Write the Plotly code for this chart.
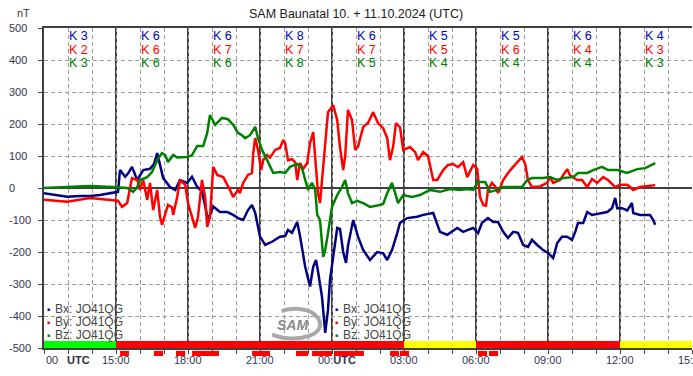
import plotly.graph_objects as go

# ---- data: time in minutes after 10.10.2024 12:00 UTC, values in nT ----
bx_t = [0, 28, 58, 90, 115, 140, 173, 185, 190, 203,
        210, 220, 233, 240, 248, 265, 275, 283, 288, 293,
        298, 315, 328, 340, 358, 370, 383, 395, 403, 410,
        423, 440, 458, 473, 485, 498, 510, 520, 528, 540,
        553, 570, 590, 603, 610, 620, 633, 640, 653, 665,
        673, 680, 685, 695, 703, 710, 715, 723, 733, 740,
        748, 755, 760, 773, 785, 798, 815, 833, 848, 858,
        870, 883, 890, 908, 933, 948, 973, 990, 1008, 1033,
        1048, 1060, 1073, 1085, 1095, 1110, 1123, 1135, 1148, 1160,
        1173, 1185, 1198, 1210, 1220, 1233, 1248, 1260, 1273, 1283,
        1295, 1308, 1320, 1328, 1335, 1348, 1358, 1370, 1390, 1408,
        1420, 1428, 1433, 1445, 1458, 1470, 1473, 1490, 1515, 1523,
        1528]
bx_v = [-16, -22, -27, -25, -25, -22, -16, -12, 56, 35,
        45, 66, 25, 40, 56, 60, 75, 109, 80, 60,
        31, 3, -6, 25, 16, 35, 3, -10, -60, -100,
        -58, -75, -75, -84, -94, -100, -69, -53, -78, -152,
        -178, -168, -152, -150, -131, -140, -106, -150, -246, -308,
        -246, -225, -260, -340, -453, -381, -287, -215, -125, -128,
        -200, -234, -180, -100, -152, -194, -225, -200, -204, -225,
        -194, -141, -109, -94, -90, -84, -78, -137, -146, -125,
        -137, -131, -125, -141, -109, -94, -106, -106, -137, -156,
        -137, -140, -178, -184, -162, -178, -194, -203, -219, -172,
        -152, -152, -162, -137, -109, -109, -75, -84, -78, -75,
        -63, -31, -63, -63, -70, -47, -78, -84, -84, -100,
        -115]

by_t = [0, 58, 115, 173, 185, 195, 208, 215, 220, 233,
        240, 248, 258, 265, 273, 283, 290, 295, 303, 310,
        320, 323, 333, 340, 353, 360, 370, 378, 385, 395,
        403, 408, 415, 423, 433, 448, 465, 473, 485, 490,
        498, 510, 520, 523, 528, 535, 543, 548, 558, 565,
        578, 590, 598, 603, 610, 620, 628, 633, 640, 648,
        658, 665, 673, 680, 685, 690, 695, 703, 710, 723,
        733, 740, 748, 753, 760, 770, 778, 785, 798, 810,
        823, 835, 848, 858, 865, 873, 880, 890, 898, 915,
        928, 935, 948, 960, 973, 983, 998, 1010, 1023, 1035,
        1048, 1058, 1073, 1083, 1090, 1098, 1105, 1110, 1120, 1128,
        1135, 1148, 1160, 1173, 1183, 1195, 1203, 1210, 1220, 1240,
        1258, 1265, 1273, 1290, 1308, 1315, 1333, 1345, 1358, 1370,
        1383, 1398, 1410, 1428, 1440, 1458, 1465, 1473, 1490, 1508,
        1528]
by_v = [-37, -43, -31, -37, -40, -59, -47, 0, 31, 25,
        -6, 25, -37, 16, -69, -6, -90, -115, -84, -53,
        -60, -84, -28, 25, 10, -47, -90, -125, -90, 25,
        -30, -122, -90, 66, 41, 34, -6, -28, -6, -16,
        16, 41, 47, 109, 156, 119, 56, 87, 103, 95,
        119, 125, 150, 140, 87, 90, 80, 25, 78, 60,
        78, 140, 175, 78, -16, -47, 20, 150, 237, 259,
        212, 128, 56, 100, 244, 212, 119, 130, 191, 203,
        237, 203, 187, 156, 87, 130, 203, 190, 119, 128,
        112, 87, 112, 100, 25, 25, 56, 72, 75, 65,
        81, 34, 72, 60, -28, -53, -55, -6, 16, 5,
        -16, 25, 47, 66, 81, 97, 75, 25, 3, 5,
        16, 34, 16, 25, 59, 40, 25, 25, 3, 28,
        16, 34, 25, 3, 10, 10, 3, -6, 3, 5,
        9]

bz_t = [0, 65, 115, 173, 208, 223, 233, 240, 258, 270,
        283, 295, 303, 310, 323, 333, 345, 358, 370, 383,
        398, 408, 415, 428, 445, 460, 473, 485, 495, 503,
        515, 528, 535, 545, 558, 573, 590, 603, 615, 633,
        645, 653, 660, 670, 678, 683, 690, 698, 703, 710,
        720, 733, 745, 753, 760, 770, 783, 798, 815, 833,
        848, 858, 870, 878, 885, 898, 920, 940, 965, 990,
        1015, 1040, 1058, 1073, 1085, 1103, 1115, 1133, 1148, 1173,
        1195, 1208, 1220, 1248, 1265, 1283, 1298, 1323, 1335, 1358,
        1373, 1395, 1410, 1433, 1458, 1483, 1503, 1528]
bz_v = [0, 3, 6, 3, 0, -12, 3, 25, 34, 50,
        87, 109, 103, 81, 103, 95, 97, 97, 103, 131,
        131, 172, 228, 197, 219, 215, 197, 172, 165, 156,
        165, 191, 156, 119, 87, 47, 50, 47, 66, 75,
        62, 25, -6, 16, -6, -84, -100, -215, -194, -141,
        -59, -22, 3, 25, -16, -47, -40, -47, -59, -55,
        -50, -16, 16, -16, -47, -22, -28, -22, -6, -12,
        -3, -6, -3, -6, 19, 19, -12, -6, 3, 3,
        3, 25, 31, 31, 34, 25, 31, 34, 47, 47,
        56, 66, 56, 56, 47, 59, 62, 78]

# K indices per 3-hour interval (start hour after 10.10 12:00)
k_start = [0, 3, 6, 9, 12, 15, 18, 21, 24]
k_x = [3, 6, 6, 8, 6, 5, 5, 6, 4]
k_y = [2, 6, 7, 7, 7, 5, 6, 4, 3]
k_z = [3, 6, 6, 8, 5, 4, 4, 4, 3]

# activity strip (hours)
strip_start = [0, 3, 15, 18, 24]
strip_end = [3, 15, 18, 24, 27]
strip_color = ["#00ff00", "#ff0000", "#ffff00", "#ff0000", "#ffff00"]

# storm markers below the axis (hours)
mark_start = [3.17, 4.58, 5.50, 6.17, 8.67, 10.50, 11.17, 12.08, 14.42, 14.83, 18.08, 18.54]
mark_end = [3.54, 4.96, 5.88, 7.29, 9.42, 11.00, 12.00, 13.33, 14.79, 15.21, 18.46, 18.92]

# x tick labels (hours)
xlab_pos = [3, 6, 9, 15, 18, 21, 24, 27]
xlab_text = ["15:00", "18:00", "21:00", "03:00", "06:00", "09:00", "12:00", "15:00"]

y_ticks = list(range(-500, 501, 100))

series = [("Bx", bx_t, bx_v, "#000080"),
          ("By", by_t, by_v, "#ff0000"),
          ("Bz", bz_t, bz_v, "#008000")]

FONT = "Arial, Liberation Sans, sans-serif"
TXT = "#343450"
AX = "#404040"

fig = go.Figure()
for name, t, v, c in series:
    fig.add_trace(go.Scatter(x=[m / 60 for m in t], y=v, mode="lines", name=name,
                             line=dict(color=c, width=2.5), showlegend=False,
                             hoverinfo="skip"))

shapes = []
for h in range(3, 27, 3):
    shapes.append(dict(type="line", xref="x", yref="paper", x0=h, x1=h, y0=0, y1=1,
                       line=dict(color=AX, width=2), layer="between"))
for s, e, c in zip(strip_start, strip_end, strip_color):
    shapes.append(dict(type="rect", xref="x", yref="y", x0=s, x1=e, y0=-500, y1=-478,
                       fillcolor=c, line=dict(width=0), layer="above"))
for s, e in zip(mark_start, mark_end):
    shapes.append(dict(type="rect", xref="paper", yref="paper", x0=s / 27, x1=e / 27,
                       y0=-0.025, y1=-0.009, fillcolor="#ff0000", line=dict(width=0)))
# SAM logo swoosh
shapes.append(dict(type="path", xref="x", yref="y",
                   path="M 9.5,-458 C 10.6,-490 11.9,-455 11.4,-405 C 11.1,-375 10.4,-372 9.9,-385",
                   line=dict(color="#a8a8a8", width=4), layer="above"))

ann = []
ann.append(dict(text="SAM Baunatal 10. + 11.10.2024 (UTC)", xref="paper", yref="paper",
                x=(356 - 44) / 648, y=1, yshift=14, xanchor="center", yanchor="middle",
                showarrow=False, font=dict(family=FONT, size=12.5, color="#202020")))
ann.append(dict(text="nT", xref="paper", yref="paper", x=(15 - 44) / 648, y=1, yshift=15,
                xanchor="left", yanchor="middle", showarrow=False,
                font=dict(family=FONT, size=11, color=TXT)))
for v in y_ticks:
    ann.append(dict(text=str(v), xref="paper", yref="y", x=(7 - 44) / 648, y=v,
                    xanchor="left", yanchor="middle", showarrow=False,
                    font=dict(family=FONT, size=11, color=TXT)))
for p, t in zip(xlab_pos, xlab_text):
    ann.append(dict(text=t, xref="x", yref="paper", x=p, y=-0.0375, xanchor="center",
                    yanchor="middle", showarrow=False, font=dict(family=FONT, size=11, color=TXT)))
ann.append(dict(text="00", xref="x", yref="paper", x=0, y=-0.0375, xanchor="left",
                yanchor="middle", showarrow=False, font=dict(family=FONT, size=11, color=TXT)))
ann.append(dict(text="<b>UTC</b>", xref="x", yref="paper", x=1.42, y=-0.0375, xanchor="center",
                yanchor="middle", showarrow=False, font=dict(family=FONT, size=11, color="#303040")))
ann.append(dict(text="00:<b>UTC</b>", xref="x", yref="paper", x=11.33, y=-0.0375, xanchor="left",
                yanchor="middle", showarrow=False, font=dict(family=FONT, size=11, color=TXT)))

k_rows = [(k_x, "#0000c8", 475), (k_y, "#ff0000", 431), (k_z, "#008000", 392)]
for vals, col, yy in k_rows:
    for s, k in zip(k_start, vals):
        ann.append(dict(text=f"K {k}", xref="x", yref="y", x=s + 1.45, y=yy,
                        xanchor="center", yanchor="middle", showarrow=False,
                        font=dict(family=FONT, size=12.5, color=col)))

leg_y = [-378, -419, -459]
for lx in [0.17, 12.17]:
    for (name, t, v, c), yy in zip(series, leg_y):
        ann.append(dict(text="■", xref="x", yref="y", x=lx, y=yy, xanchor="center",
                        yanchor="middle", showarrow=False, font=dict(family=FONT, size=5, color=c)))
        ann.append(dict(text=f"{name}: JO41QG", xref="x", yref="y", x=lx + 0.2, y=yy,
                        xanchor="left", yanchor="middle", showarrow=False,
                        font=dict(family=FONT, size=12, color="#484848")))

ann.append(dict(text="<i><b>SAM</b></i>", xref="x", yref="y", x=10.35, y=-428,
                xanchor="center", yanchor="middle", showarrow=False,
                font=dict(family=FONT, size=14, color="#8a8a8a")))

fig.update_layout(
    width=693, height=376,
    margin=dict(l=44, r=1, t=28, b=28),
    paper_bgcolor="white", plot_bgcolor="white",
    shapes=shapes, annotations=ann,
    xaxis=dict(range=[0, 27], tickvals=list(range(28)), ticks="outside", ticklen=4,
               tickcolor=AX, tickwidth=1, showticklabels=False, showgrid=True,
               gridcolor="#9a9a9a", griddash="4px,3px", gridwidth=1, showline=True,
               linecolor=AX, linewidth=2, mirror=True, zeroline=False, fixedrange=True),
    yaxis=dict(range=[-500, 500], tickvals=y_ticks, ticks="outside", ticklen=4,
               tickcolor=AX, tickwidth=1, showticklabels=False, showgrid=True,
               gridcolor="#9a9a9a", griddash="4px,3px", gridwidth=1, showline=True,
               linecolor=AX, linewidth=2, zeroline=True, zerolinecolor=AX,
               zerolinewidth=2, fixedrange=True),
)

fig.write_html("out.html", config={"displayModeBar": False},
               post_script="document.body.style.margin='0';document.body.style.overflow='hidden';")
